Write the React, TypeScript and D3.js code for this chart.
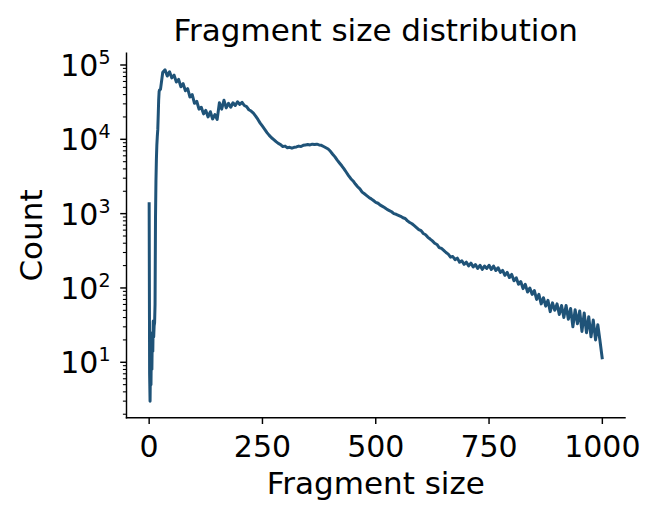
import React from 'react';
import * as d3 from 'd3';

// fragment sizes (bp) and the counts
const sizes = [
  0, 1, 2, 3, 4, 5, 6, 7, 8, 9, 10, 11, 12, 13, 14, 15, 16, 17, 18, 19, 20, 21, 22, 23,
  25, 30, 35, 40, 45, 50, 55, 60, 65, 70, 75, 80, 85, 90, 95, 100, 105, 110, 115, 120,
  125, 130, 135, 140, 145, 150, 155, 160, 165, 170, 175, 180, 185, 190, 195, 200, 205,
  210, 215, 220, 225, 230, 235, 240, 245, 250, 255, 260, 265, 270, 275, 280, 285, 290,
  295, 300, 305, 310, 315, 320, 325, 330, 335, 340, 345, 350, 355, 360, 365, 370, 375,
  380, 385, 390, 395, 400, 405, 410, 415, 420, 425, 430, 435, 440, 445, 450, 455, 460,
  465, 470, 475, 480, 485, 490, 495, 500, 505, 510, 515, 520, 525, 530, 535, 540, 545,
  550, 555, 560, 565, 570, 575, 580, 585, 590, 595, 600, 605, 610, 615, 620, 625, 630,
  635, 640, 645, 650, 655, 660, 665, 670, 675, 680, 685, 690, 695, 700, 705, 710, 715,
  720, 725, 730, 735, 740, 745, 750, 755, 760, 765, 770, 775, 780, 785, 790, 795, 800,
  805, 810, 815, 820, 825, 830, 835, 840, 845, 850, 855, 860, 865, 870, 875, 880, 885,
  890, 895, 900, 905, 910, 915, 920, 925, 930, 935, 940, 945, 950, 955, 960, 965, 970,
  975, 980, 985, 990, 995, 1000,
];

const counts = [
  1420, 7, 3, 11, 5, 19, 8, 25, 14, 36, 22, 31, 34, 60, 900, 2800, 5500, 8500, 11000, 13500, 21000, 34000, 44000, 46000,
  47000, 80000, 86000, 71000, 81000, 67000, 73000, 59000, 64000, 51000, 56000, 45000, 48000, 37000, 40000, 30500, 32500, 25500, 27000, 22000,
  24500, 20000, 23500, 18800, 21500, 18500, 31000, 25500, 33500, 26500, 30500, 27000, 31000, 28500, 32000, 29500, 31500,
  28500, 27500, 25000, 24000, 22500, 20500, 18500, 16500, 15000, 13600, 12300, 11300, 10500, 9900, 9300, 8800, 8500,
  8000, 8100, 7700, 7800, 7600, 7800, 7900, 8100, 8000, 8300, 8400, 8500, 8400, 8600, 8500, 8600, 8400,
  8300, 8000, 7700, 7400, 6900, 6300, 5800, 5250, 4800, 4400, 4000, 3600, 3250, 2950, 2750, 2500, 2300,
  2150, 1950, 1850, 1750, 1650, 1580, 1500, 1420, 1380, 1300, 1250, 1200, 1140, 1100, 1060, 1000, 980,
  950, 920, 880, 860, 800, 760, 730, 690, 650, 610, 590, 540, 520, 480, 455, 430, 400,
  385, 350, 340, 320, 300, 285, 260, 265, 240, 252, 222, 232, 208, 222, 198, 216, 192,
  207, 183, 202, 178, 197, 183, 202, 177, 197, 172, 187, 162, 172, 148, 162, 138, 152,
  125, 137, 112, 122, 98, 112, 88, 100, 82, 92, 70, 82, 61, 74, 57, 68, 48,
  63, 50, 61, 44, 58, 40, 58, 38, 53, 30, 51, 33, 49, 26, 46, 25, 41,
  22, 37, 20, 32, 19, 11,
];

const xTicks = [0, 250, 500, 750, 1000];
const yExponents = [1, 2, 3, 4, 5];

const W = 657;
const H = 520;
const font = '"DejaVu Sans", sans-serif';
const lineColor = '#1f5378';

export default function App() {
  const data = sizes.map((s, i) => ({ size: s, count: counts[i] }));

  // matplotlib-like 5% margins
  const [x0, x1] = d3.extent(sizes) as [number, number];
  const xPad = (x1 - x0) * 0.05;
  const x = d3.scaleLinear().domain([x0 - xPad, x1 + xPad]).range([126.5, 625]);

  const [c0, c1] = d3.extent(counts) as [number, number];
  const lo = Math.log10(c0);
  const hi = Math.log10(c1);
  const yPad = (hi - lo) * 0.05;
  const y = d3.scaleLog().domain([10 ** (lo - yPad), 10 ** (hi + yPad)]).range([417.7, 53.3]);

  const [yMin, yMax] = y.domain();
  const minor: number[] = [];
  for (let k = Math.floor(Math.log10(yMin)); k <= Math.ceil(Math.log10(yMax)); k++) {
    for (let m = 2; m <= 9; m++) {
      const v = m * 10 ** k;
      if (v >= yMin && v <= yMax) minor.push(v);
    }
  }

  const line = d3.line<{ size: number; count: number }>()
    .x(d => x(d.size))
    .y(d => y(d.count));

  const left = x.range()[0];
  const bottom = y.range()[0];
  const top = y.range()[1];
  const right = x.range()[1];

  return (
    <div style={{ position: 'absolute', left: 0, top: 0 }}>
      <svg width={W} height={H} style={{ display: 'block', background: '#fff' }}>
        <path d={line(data) || ''} fill="none" stroke={lineColor} strokeWidth={3} strokeLinejoin="round" />

        {/* spines */}
        <line x1={left} x2={left} y1={top} y2={bottom} stroke="#000" strokeWidth={1.45} strokeLinecap="square" />
        <line x1={left} x2={right} y1={bottom} y2={bottom} stroke="#000" strokeWidth={1.45} strokeLinecap="square" />

        {/* x axis */}
        {xTicks.map(t => (
          <g key={t} transform={`translate(${x(t)},${bottom})`}>
            <line y1={0} y2={6.3} stroke="#000" strokeWidth={1.45} />
            <text y={39} textAnchor="middle" fontFamily={font} fontSize={30} fill="#000">{t}</text>
          </g>
        ))}

        {/* y axis */}
        {minor.map(v => (
          <line key={v} x1={left} x2={left - 3.6} y1={y(v)} y2={y(v)} stroke="#000" strokeWidth={1.08} />
        ))}
        {yExponents.map(e => (
          <g key={e} transform={`translate(${left},${y(10 ** e)})`}>
            <line x1={0} x2={-6.3} stroke="#000" strokeWidth={1.45} />
            <text x={-16} y={11} textAnchor="end" fontFamily={font} fontSize={30} fill="#000">
              <tspan>10</tspan>
              <tspan dy={-12} fontSize={19}>{e}</tspan>
            </text>
          </g>
        ))}

        {/* labels */}
        <text x={(left + right) / 2} y={494} textAnchor="middle" fontFamily={font} fontSize={31} fill="#000">
          Fragment size
        </text>
        <text
          transform={`translate(42,${(top + bottom) / 2}) rotate(-90)`}
          textAnchor="middle"
          fontFamily={font}
          fontSize={31}
          fill="#000"
        >
          Count
        </text>
        <text x={(left + right) / 2} y={41} textAnchor="middle" fontFamily={font} fontSize={31} fill="#000">
          Fragment size distribution
        </text>
      </svg>
    </div>
  );
}
